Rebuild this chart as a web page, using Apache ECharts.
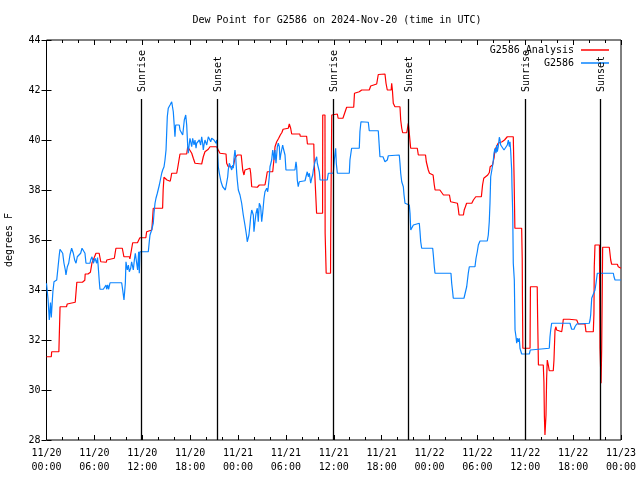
<!DOCTYPE html>
<html>
<head>
<meta charset="utf-8">
<script src="https://cdn.jsdelivr.net/npm/echarts@6/dist/echarts.min.js"></script>
<style>html,body{margin:0;padding:0;background:#fff}#chart{width:640px;height:480px}</style>
</head>
<body>
<div id="chart"></div>
<script>
// Hours since 2024-11-20 00:00 UTC
const tickLabels = ['11/20\n00:00','11/20\n06:00','11/20\n12:00','11/20\n18:00','11/21\n00:00','11/21\n06:00','11/21\n12:00','11/21\n18:00','11/22\n00:00','11/22\n06:00','11/22\n12:00','11/22\n18:00','11/23\n00:00'];
const yTicks = [28,30,32,34,36,38,40,42,44];

const sunHours = [11.88, 21.41, 35.94, 45.34, 60.01, 69.41];
const sunNames = ['Sunrise','Sunset','Sunrise','Sunset','Sunrise','Sunset'];

const analysisHours = [0,0.6,0.65,1.55,1.7,2.5,2.6,2.7,3.6,3.8,4.5,4.55,4.8,4.85,5.2,5.25,5.5,5.55,5.7,6.0,6.2,6.6,6.8,6.85,7.5,7.55,7.7,8.5,8.7,9.5,9.7,10.4,10.45,10.6,10.8,11.4,11.7,12.45,12.55,12.75,13.2,13.3,13.38,14.55,14.62,14.72,14.9,15.1,15.26,15.5,15.6,15.69,16.32,16.45,16.64,16.73,17.57,17.7,17.9,18.2,18.4,18.61,18.74,19.45,19.65,19.86,20.08,20.28,20.49,21.33,21.53,21.74,21.96,22.5,22.58,22.78,23.41,23.62,23.91,24.4,24.59,24.75,24.87,25.0,25.5,25.59,25.72,26.42,26.67,27.38,27.5,27.67,28.35,28.5,28.64,28.85,29.1,29.3,29.5,29.65,29.85,30.3,30.43,30.6,30.73,31.75,31.8,32.6,32.7,33.5,33.55,33.8,33.85,34.6,34.62,34.9,34.92,35.03,35.05,35.6,35.62,35.7,35.75,36.45,36.55,37.15,37.3,37.5,37.62,38.5,38.6,38.75,39.2,39.5,40.45,40.63,40.88,41.38,41.58,42.42,42.55,42.71,43.2,43.26,43.35,43.46,43.67,44.3,44.39,44.52,44.64,45.14,45.21,45.34,45.43,45.56,45.64,46.47,46.6,47.5,47.6,47.85,48.0,48.45,48.6,48.7,49.3,49.5,49.75,50.5,50.65,51.5,51.6,51.7,52.25,52.35,52.5,52.65,53.3,53.5,53.8,54.5,54.65,54.8,55.0,55.3,55.5,55.6,55.9,56.1,56.2,56.45,56.6,57.1,57.4,57.75,58.5,58.6,58.7,59.55,59.62,59.65,59.7,60.6,60.65,61.5,61.55,61.65,62.26,62.34,62.4,62.47,62.6,62.68,62.76,62.89,63.01,63.51,63.6,63.73,63.85,63.93,64.02,64.57,64.69,64.77,65.52,65.61,66.45,66.65,67.49,67.61,68.53,68.61,68.65,68.74,69.3,69.37,69.45,69.5,69.58,69.7,69.78,70.53,70.71,70.83,71.54,71.66,71.79,72];
const analysisDewpt = [31.33,31.33,31.53,31.53,33.33,33.33,33.44,33.51,33.51,34.31,34.31,34.39,34.39,34.64,34.64,34.71,34.71,34.8,35.09,35.31,35.47,35.47,35.13,35.11,35.11,35.2,35.27,35.27,35.67,35.67,35.33,35.33,35.24,35.24,35.89,35.89,36.09,36.09,36.33,36.4,36.4,36.47,37.27,37.27,38.0,38.51,38.45,38.4,38.33,38.35,38.5,38.67,38.67,38.9,39.27,39.44,39.44,39.73,39.73,39.47,39.27,39.07,39.04,39.04,39.33,39.53,39.53,39.63,39.73,39.73,39.6,39.47,39.44,39.44,39.07,38.93,38.93,39.27,39.4,39.4,38.8,38.6,38.8,38.87,38.87,38.67,38.13,38.11,38.2,38.2,38.4,38.73,38.73,39.2,39.73,39.93,40.07,40.2,40.3,40.43,40.47,40.47,40.64,40.47,40.24,40.24,40.15,40.15,39.84,39.84,39.13,39.13,37.07,37.07,41.0,41.0,36.27,36.27,34.67,34.67,36.27,36.27,41.0,41.04,40.87,40.87,40.93,41.2,41.31,41.31,41.87,41.93,41.93,42.0,42.0,42.16,42.2,42.24,42.62,42.64,42.27,42.0,42.0,42.27,42.0,41.47,41.33,41.33,40.8,40.47,40.29,40.29,40.4,40.67,40.4,40.33,39.67,39.67,39.4,39.4,39.13,38.8,38.67,38.6,38.2,38.0,38.0,37.97,37.8,37.8,37.53,37.47,37.27,37.0,37.0,37.2,37.33,37.47,37.47,37.6,37.73,37.73,38.2,38.47,38.53,38.6,38.7,38.93,39.0,39.3,39.6,39.63,39.87,39.93,40.0,40.13,40.13,38.5,36.47,36.47,35.27,33.6,31.67,31.67,34.13,34.13,32.93,31.0,31.0,30.33,28.93,28.2,29.0,30.47,31.2,31.0,30.77,30.77,31.2,32.4,32.53,32.4,32.33,32.33,32.6,32.83,32.83,32.8,32.8,32.64,32.64,32.33,32.33,33.07,34.93,35.8,35.8,31.67,31.67,30.27,31.67,35.71,35.71,35.71,35.2,35.03,35.03,34.93,34.87,34.87];

const obsHours = [0,0.2,0.35,0.5,0.6,0.72,0.8,0.94,1.28,1.45,1.6,1.69,1.82,2.03,2.19,2.36,2.44,2.61,2.78,2.94,3.15,3.36,3.53,3.7,3.86,4.11,4.28,4.45,4.7,4.82,4.95,5.45,5.53,5.7,5.87,6.08,6.29,6.4,6.62,6.7,7.12,7.33,7.46,7.54,7.67,7.79,7.96,9.42,9.55,9.71,9.88,9.96,10.13,10.26,10.38,10.55,10.67,10.88,11.01,11.13,11.3,11.42,11.55,11.63,11.71,12.76,12.88,12.97,13.18,13.38,13.47,13.6,13.72,13.89,14.01,14.14,14.31,14.44,14.56,14.73,14.85,14.98,15.06,15.14,15.26,15.48,15.69,15.77,15.89,16.02,16.1,16.19,16.39,16.64,16.73,16.94,17.07,17.14,17.27,17.45,17.57,17.7,17.77,17.9,17.98,18.07,18.2,18.32,18.49,18.61,18.74,18.82,19.02,19.15,19.32,19.45,19.57,19.65,19.74,19.86,20.08,20.2,20.28,20.49,20.58,20.7,20.87,20.99,21.12,21.24,21.33,21.4,21.53,21.66,21.74,21.87,22.08,22.24,22.41,22.53,22.71,22.78,22.91,23.0,23.08,23.21,23.34,23.41,23.5,23.62,23.71,23.84,23.91,24.04,24.25,24.46,24.66,24.87,25.0,25.09,25.16,25.29,25.37,25.5,25.59,25.72,25.84,25.92,26.0,26.13,26.26,26.42,26.54,26.67,26.75,26.84,26.97,27.09,27.26,27.38,27.6,27.72,27.8,27.92,28.01,28.22,28.35,28.42,28.51,28.64,28.76,28.93,29.05,29.18,29.26,29.35,29.47,29.6,29.68,29.77,29.89,30.01,31.14,31.27,31.35,31.43,31.55,31.68,31.77,32.4,32.52,32.68,32.81,32.94,33.11,33.24,33.36,33.44,33.52,33.65,33.77,33.86,33.94,34.07,34.19,34.28,35.19,35.32,35.94,36.07,36.24,36.32,36.45,37.95,38.03,38.24,39.2,39.28,39.41,40.33,40.45,41.58,41.71,41.79,42.17,42.42,42.71,42.84,43.05,44.21,44.3,44.39,44.52,44.72,44.81,44.93,45.06,45.47,45.56,45.65,45.77,45.9,45.98,46.19,46.72,46.81,46.9,47.02,48.4,48.48,48.6,48.69,50.69,50.78,50.9,50.98,52.32,52.45,52.66,52.86,52.99,53.7,53.83,53.99,54.12,54.33,55.24,55.37,55.49,55.58,55.67,55.92,56.0,56.08,56.21,56.33,56.42,56.5,56.62,56.75,56.84,56.92,57.05,57.17,57.34,57.59,57.75,57.88,58.01,58.09,58.18,58.3,58.34,58.43,58.5,58.63,58.72,58.84,58.93,59.0,59.13,59.25,59.34,59.42,59.55,60.51,60.63,60.8,63.01,63.1,63.19,63.31,65.61,65.7,65.82,66.11,66.23,66.45,68.03,68.12,68.2,68.33,68.53,68.74,68.87,69.03,71.04,71.12,71.25,72];
const obsDewpt = [34.27,33.6,32.8,33.5,32.9,33.53,33.93,34.33,34.4,34.93,35.4,35.63,35.67,35.47,35.07,34.8,34.6,34.93,35.07,35.4,35.67,35.47,35.2,35.07,35.33,35.4,35.47,35.67,35.67,35.47,35.07,35.07,35.2,35.33,35.07,35.27,35.07,35.3,34.33,34.03,34.03,34.07,34.2,34.03,34.2,34.03,34.29,34.29,34.0,33.6,34.27,35.13,34.8,35.0,34.73,34.87,35.13,34.8,35.2,35.47,35.53,34.8,35.53,34.67,35.53,35.53,35.93,36.2,36.4,36.67,37.07,37.47,37.67,37.87,37.93,38.2,38.47,38.67,38.8,38.93,39.2,39.6,40.27,40.93,41.27,41.4,41.53,41.5,41.13,40.53,40.13,40.6,40.6,40.6,40.4,40.47,40.2,40.4,40.8,41.0,40.6,39.73,39.47,39.87,40.07,39.93,39.73,40.07,39.8,40.0,39.67,39.87,39.8,40.0,39.8,40.13,39.87,39.6,39.8,40.0,39.8,39.73,40.13,40.13,39.93,40.07,40.13,40.0,40.07,39.87,40.0,39.73,38.93,38.67,38.73,38.33,38.13,38.07,38.0,38.2,38.53,38.8,39.07,39.13,39.0,38.8,39.0,38.87,39.27,39.6,39.33,38.67,38.4,38.0,37.8,37.47,37.0,36.6,36.33,36.13,35.93,35.87,36.2,36.6,36.93,37.2,37.27,37.0,36.33,36.73,37.07,37.27,36.73,37.47,37.53,37.33,36.73,37.07,37.67,37.93,38.07,37.93,38.13,38.53,38.93,39.2,39.6,39.47,39.2,39.6,39.07,39.73,39.87,39.73,39.2,39.4,39.6,39.8,39.67,39.6,39.4,38.8,38.8,39.13,38.93,38.4,38.13,38.33,38.37,38.37,38.53,38.73,38.53,38.67,38.27,38.47,38.6,38.8,38.93,39.13,39.2,39.33,39.07,39.13,38.73,38.4,38.4,38.67,38.67,39.2,39.67,39.07,38.67,38.67,39.2,39.67,39.67,40.33,40.73,40.71,40.37,40.37,39.73,39.33,39.33,39.13,39.2,39.37,39.4,39.4,39.07,38.67,38.33,38.13,37.8,37.47,37.4,37.4,37.07,36.4,36.4,36.47,36.6,36.67,36.67,36.33,35.93,35.67,35.67,35.4,34.93,34.67,34.67,34.27,33.93,33.67,33.67,33.73,34.13,34.67,34.93,34.93,35.27,35.53,35.8,35.96,35.96,36.2,36.73,37.47,38.53,39.0,39.2,39.47,39.67,39.47,39.8,39.53,39.73,40.11,40.0,39.8,39.87,39.73,39.6,39.6,39.8,40.0,39.73,39.93,39.53,38.8,38.13,37.07,35.07,34.4,32.4,32.13,31.87,32.07,31.93,32.07,31.67,31.6,31.44,31.44,31.6,31.67,31.67,32.13,32.4,32.67,32.67,32.56,32.43,32.43,32.53,32.64,32.67,32.8,33.0,33.67,33.67,34.0,34.27,34.67,34.67,34.53,34.4,34.4];

const FONT = '"DejaVu Sans Mono", "Liberation Mono", monospace';
const zip = (a, b) => a.map((v, i) => [v, b[i]]);
const sunLineTop = 41.64;

const chart = echarts.init(document.getElementById('chart'), null, {renderer: 'canvas'});
const xCommon = {
  type: 'value', min: 0, max: 72, interval: 6,
  axisLine: {show: false}, splitLine: {show: false},
  axisTick: {show: true, inside: true, length: 5, lineStyle: {color: '#000'}},
  minorTick: {show: true, splitNumber: 3, length: 3, lineStyle: {color: '#000'}},
  minorSplitLine: {show: false}
};
const yCommon = {
  type: 'value', min: 28, max: 44, interval: 2,
  axisLine: {show: false}, splitLine: {show: false},
  axisTick: {show: true, inside: true, length: 5, lineStyle: {color: '#000'}}
};
chart.setOption({
  animation: false,
  backgroundColor: '#fff',
  title: {
    text: 'Dew Point for G2586 on 2024-Nov-20 (time in UTC)',
    left: 332, top: 10, textAlign: 'center',
    textStyle: {fontFamily: FONT, fontSize: 10, fontWeight: 'normal', color: '#000'}
  },
  legend: {
    data: ['G2586 Analysis', 'G2586'],
    orient: 'vertical', right: 26, top: 39, align: 'right',
    icon: 'rect', itemWidth: 28, itemHeight: 1.5, itemGap: 1,
    textStyle: {fontFamily: FONT, fontSize: 10, color: '#000', lineHeight: 12, padding: [0, 2, 0, 0]}
  },
  grid: {left: 46.5, right: 19, top: 40, bottom: 40, show: true, borderColor: '#000', borderWidth: 1, containLabel: false, outerBoundsMode: 'none'},
  xAxis: [
    Object.assign({}, xCommon, {position: 'bottom',
      axisLabel: {show: true, margin: 6, color: '#000', fontFamily: FONT, fontSize: 10, lineHeight: 14,
        formatter: v => tickLabels[Math.round(v / 6)]}}),
    Object.assign({}, xCommon, {position: 'top', axisLabel: {show: false}})
  ],
  yAxis: [
    Object.assign({}, yCommon, {position: 'left', name: 'degrees F', nameLocation: 'middle', nameGap: 32,
      nameTextStyle: {fontFamily: FONT, fontSize: 10, color: '#000'},
      axisLabel: {show: true, margin: 6, color: '#000', fontFamily: FONT, fontSize: 10,
        formatter: v => String(yTicks[yTicks.indexOf(v)])}}),
    Object.assign({}, yCommon, {position: 'right', axisLabel: {show: false}})
  ],
  series: [
    {
      name: 'G2586 Analysis', type: 'line', xAxisIndex: 0, yAxisIndex: 0,
      data: zip(analysisHours, analysisDewpt), showSymbol: false, symbol: 'none',
      lineStyle: {color: '#ff0000', width: 1.2}, itemStyle: {color: '#ff0000'}, z: 2
    },
    {
      name: 'G2586', type: 'line', xAxisIndex: 0, yAxisIndex: 0,
      data: zip(obsHours, obsDewpt), showSymbol: false, symbol: 'none',
      lineStyle: {color: '#0a84ff', width: 1.2}, itemStyle: {color: '#0a84ff'}, z: 3
    },
    {
      name: 'sun', type: 'custom', xAxisIndex: 0, yAxisIndex: 0, clip: false, z: 4,
      data: sunHours.map(h => [h, sunLineTop]),
      encode: {x: 0, y: 1},
      renderItem: function (params, api) {
        const h = api.value(0);
        const b = api.coord([h, 28]);
        const t = api.coord([h, api.value(1)]);
        return {type: 'group', children: [
          {type: 'line', shape: {x1: Math.round(b[0]) + 0.5, y1: b[1], x2: Math.round(t[0]) + 0.5, y2: t[1]},
           style: {stroke: '#000', lineWidth: 1.3}},
          {type: 'text', x: t[0] + 1.5, y: t[1] - 7, rotation: Math.PI / 2,
           style: {text: sunNames[params.dataIndex], fill: '#000', font: '10px ' + FONT, align: 'left', verticalAlign: 'middle'}}
        ]};
      }
    }
  ]
});
</script>
</body>
</html>
